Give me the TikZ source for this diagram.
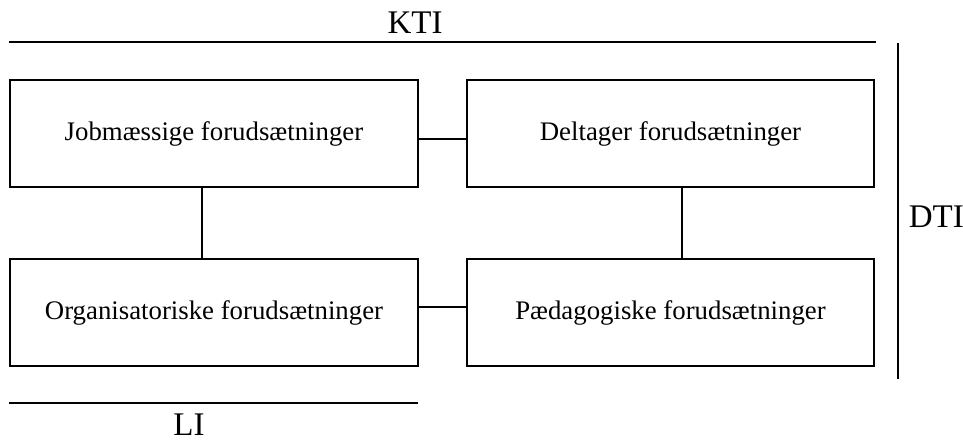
\documentclass[tikz,border=0pt]{standalone}
\usepackage{fontspec}
\setmainfont{Liberation Serif}

\begin{document}
\begin{tikzpicture}[x=0.5pt, y=-0.5pt, line width=0.9pt,
    fbox/.style={draw, rectangle, inner sep=0pt, minimum width=204pt, minimum height=53.5pt, font=\fontsize{13.4}{16}\selectfont},
    lbl/.style={font=\fontsize{16.5}{19}\selectfont, inner sep=0pt}]
\useasboundingbox (0,0) rectangle (963,441);
% Draw boxes
\node[fbox] (jobs) at (214,133.5) {Jobmæssige forudsætninger};
\node[fbox, minimum width=203.5pt] (deltager) at (670.5,133.5) {Deltager forudsætninger};
\node[fbox] (org) at (214,312.5) {Organisatoriske forudsætninger};
\node[fbox, minimum width=203.5pt] (paed) at (670.5,312.5) {Pædagogiske forudsætninger};
% Draw connectors
\draw ([yshift=-2.75pt]jobs.east) -- ([yshift=-2.75pt]deltager.west);
\draw ([xshift=-6pt]jobs.south) -- ([xshift=-6pt]org.north);
\draw ([xshift=5.75pt]deltager.south) -- ([xshift=5.75pt]paed.north);
\draw ([yshift=2.75pt]org.east) -- ([yshift=2.75pt]paed.west);
% Draw level lines
\coordinate (ktiA) at (9,42);
\coordinate (ktiB) at (876,42);
\coordinate (dtiA) at (898,43);
\coordinate (dtiB) at (898,379);
\coordinate (liA) at (9,403);
\coordinate (liB) at (418,403);
\draw (ktiA) -- (ktiB);
\draw (dtiA) -- (dtiB);
\draw (liA) -- (liB);
% Draw labels
\node[lbl] (kti) at (415,23) {KTI};
\node[lbl, anchor=west] (dti) at (908,217) {DTI};
\node[lbl, anchor=base] (li) at (189,435) {LI};
\end{tikzpicture}
\end{document}
